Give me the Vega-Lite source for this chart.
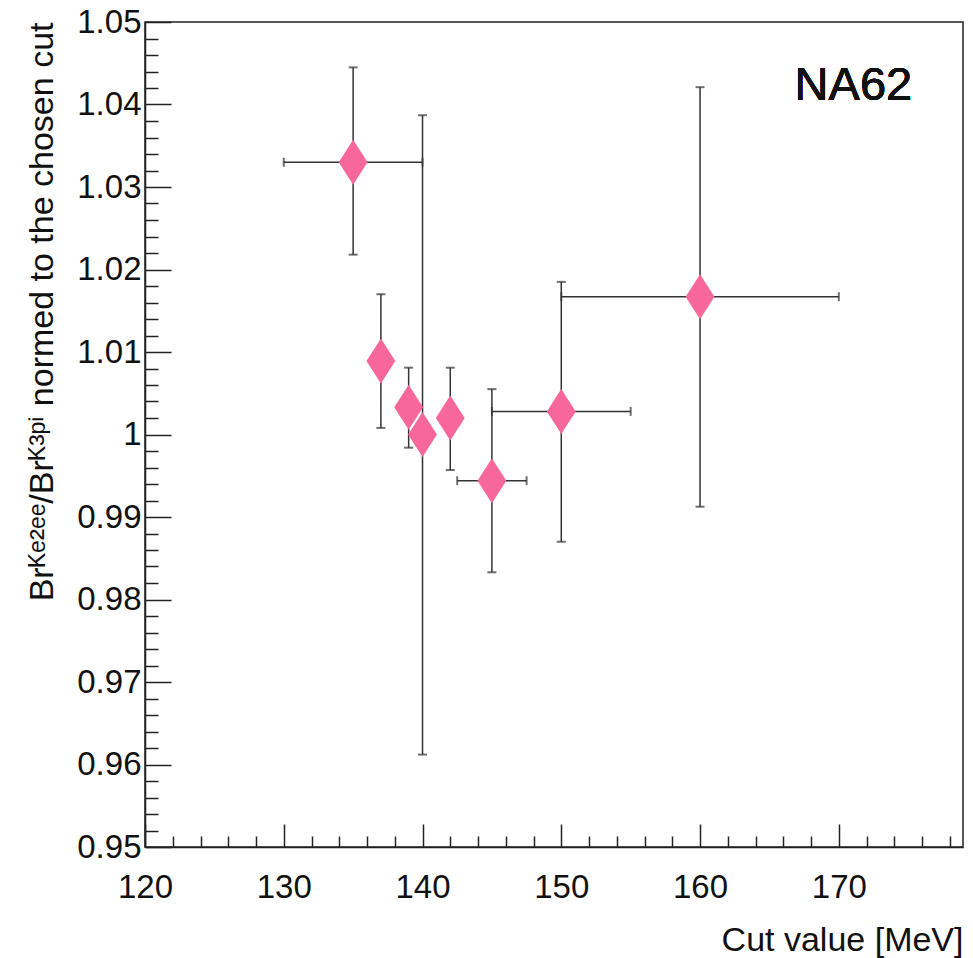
{
  "$schema": "https://vega.github.io/schema/vega-lite/v6.json",
  "width": 818,
  "height": 825,
  "autosize": "none",
  "padding": {"left": 145, "top": 22, "right": 10, "bottom": 111},
  "background": "white",
  "config": {"view": {"stroke": "#222", "strokeWidth": 1.5}, "font": "Liberation Sans"},
  "data": {"values": [
    {"cut": 135, "ratio": 1.0330, "ylo": 1.0218, "yhi": 1.0445, "xlo": 130, "xhi": 140},
    {"cut": 137, "ratio": 1.0089, "ylo": 1.0008, "yhi": 1.0170, "xlo": 137, "xhi": 137},
    {"cut": 139, "ratio": 1.0033, "ylo": 0.9984, "yhi": 1.0081, "xlo": 139, "xhi": 139},
    {"cut": 140, "ratio": 1.0000, "ylo": 0.9612, "yhi": 1.0387, "xlo": 140, "xhi": 140},
    {"cut": 142, "ratio": 1.0020, "ylo": 0.9957, "yhi": 1.0081, "xlo": 142, "xhi": 142},
    {"cut": 145, "ratio": 0.9944, "ylo": 0.9833, "yhi": 1.0055, "xlo": 142.5, "xhi": 147.5},
    {"cut": 150, "ratio": 1.0028, "ylo": 0.9870, "yhi": 1.0185, "xlo": 145, "xhi": 155},
    {"cut": 160, "ratio": 1.0167, "ylo": 0.99125, "yhi": 1.0421, "xlo": 150, "xhi": 170}
  ]},
  "layer": [
    {
      "mark": {"type": "rule", "color": "#333", "strokeWidth": 1.5},
      "encoding": {
        "x": {"field": "cut", "type": "quantitative",
          "scale": {"domain": [120, 178.95], "nice": false, "zero": false},
          "axis": {
            "values": [120,122,124,126,128,130,132,134,136,138,140,142,144,146,148,150,152,154,156,158,160,162,164,166,168,170,172,174,176,178],
            "tickCount": 500,
            "labelExpr": "datum.value % 10 === 0 ? format(datum.value, 'd') : ''",
            "tickSize": {"condition": {"test": "datum.value % 10 === 0", "value": -23}, "value": -11},
            "tickColor": "#222", "tickWidth": 1.5,
            "domainColor": "#222", "domainWidth": 1.5,
            "labelFontSize": 33, "labelColor": "#111", "labelPadding": 47,
            "labelFlush": false, "labelOverlap": false, "grid": false,
            "title": "Cut value [MeV]", "titleFontSize": 34, "titleFontWeight": "normal", "titleColor": "#111",
            "titleAnchor": "end", "titleAlign": "right", "titleBaseline": "alphabetic",
            "titleX": 818, "titleY": 103
          }
        },
        "y": {"field": "ylo", "type": "quantitative",
          "scale": {"domain": [0.95, 1.05], "nice": false, "zero": false},
          "axis": {
            "values": [0.95,0.952,0.954,0.956,0.958,0.96,0.962,0.964,0.966,0.968,0.97,0.972,0.974,0.976,0.978,0.98,0.982,0.984,0.986,0.988,0.99,0.992,0.994,0.996,0.998,1.0,1.002,1.004,1.006,1.008,1.01,1.012,1.014,1.016,1.018,1.02,1.022,1.024,1.026,1.028,1.03,1.032,1.034,1.036,1.038,1.04,1.042,1.044,1.046,1.048,1.05],
            "tickCount": 500,
            "labelExpr": "abs(datum.value*100 - round(datum.value*100)) < 1e-6 ? format(datum.value, '.2~f') : ''",
            "tickSize": {"condition": {"test": "abs(datum.value*100 - round(datum.value*100)) < 1e-6", "value": -26}, "value": -13},
            "tickColor": "#222", "tickWidth": 1.5,
            "domainColor": "#222", "domainWidth": 1.5,
            "labelFontSize": 33, "labelColor": "#111", "labelPadding": 30,
            "labelFlush": false, "labelOverlap": false, "grid": false,
            "title": "Brᴷᵉ²ᵉᵉ/Brᴷ³ᵖⁱ normed to the chosen cut", "titleFontSize": 34, "titleFontWeight": "normal", "titleColor": "#111",
            "titleAnchor": "end", "titleAlign": "right", "titleBaseline": "alphabetic", "titleAngle": 270,
            "titleX": -93, "titleY": 0
          }
        },
        "y2": {"field": "yhi"}
      }
    },
    {
      "transform": [{"filter": "datum.xhi > datum.xlo"}],
      "mark": {"type": "rule", "color": "#333", "strokeWidth": 1.5},
      "encoding": {
        "x": {"field": "xlo", "type": "quantitative"},
        "x2": {"field": "xhi"},
        "y": {"field": "ratio", "type": "quantitative"}
      }
    },
    {
      "transform": [{"fold": ["ylo", "yhi"], "as": ["end", "val"]}],
      "mark": {"type": "tick", "orient": "horizontal", "color": "#333", "size": 9, "thickness": 2},
      "encoding": {
        "x": {"field": "cut", "type": "quantitative"},
        "y": {"field": "val", "type": "quantitative"}
      }
    },
    {
      "transform": [{"filter": "datum.xhi > datum.xlo"}, {"fold": ["xlo", "xhi"], "as": ["end", "val"]}],
      "mark": {"type": "tick", "orient": "vertical", "color": "#333", "size": 9, "thickness": 2},
      "encoding": {
        "x": {"field": "val", "type": "quantitative"},
        "y": {"field": "ratio", "type": "quantitative"}
      }
    },
    {
      "mark": {"type": "point", "shape": "M0,-1L0.64,0L0,1L-0.64,0Z", "filled": true, "size": 2025, "color": "#F8679A", "opacity": 1},
      "encoding": {
        "x": {"field": "cut", "type": "quantitative"},
        "y": {"field": "ratio", "type": "quantitative"}
      }
    },
    {
      "mark": {"type": "text", "text": "NA62", "fontSize": 47, "align": "center", "baseline": "alphabetic", "color": "#111", "font": "Liberation Sans"},
      "encoding": {
        "x": {"datum": 171.05, "type": "quantitative"},
        "y": {"datum": 1.04055, "type": "quantitative"}
      }
    }
  ]
}
